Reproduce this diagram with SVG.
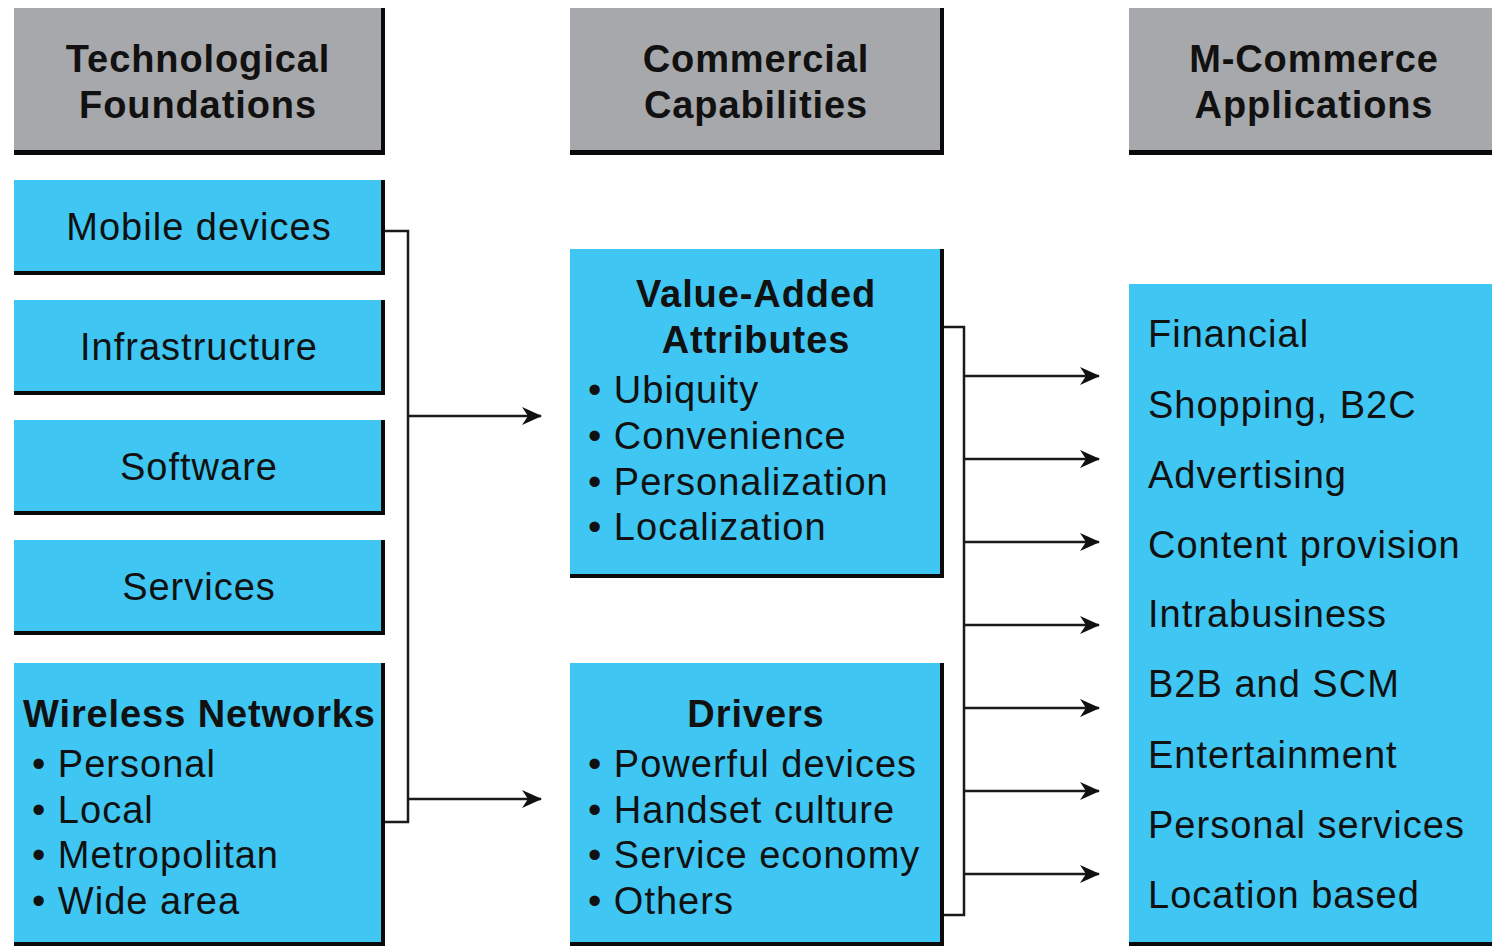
<svg xmlns="http://www.w3.org/2000/svg" width="1492" height="946" viewBox="0 0 1492 946">
  <defs>
    <style>
      .edge { fill: #0a0a0a; }
      .head { fill: #a7a8ab; }
      .box { fill: #3fc6f2; }
      text { font-family: "Liberation Sans", Arial, sans-serif; font-size: 38px; fill: #111; letter-spacing: 1px; }
      .b { font-weight: bold; letter-spacing: 0.9px; }
      .c { text-anchor: middle; }
      .wire { fill: none; stroke: #1a1a1a; stroke-width: 2.5; }
      .arrow { fill: none; stroke: #1a1a1a; stroke-width: 2.5; marker-end: url(#tip); }
    </style>
    <marker id="tip" markerUnits="userSpaceOnUse" markerWidth="22" markerHeight="20" refX="19" refY="10" orient="auto">
      <path d="M0,1 L20,10 L0,19 L6,10 Z" fill="#111"/>
    </marker>
  </defs>

  <!-- column headers -->
  <g id="hdr-tech">
    <rect class="edge" x="14" y="8" width="371" height="147"/>
    <rect class="head" x="14" y="8" width="367" height="142"/>
    <text class="b c" x="198" y="72">Technological</text>
    <text class="b c" x="198" y="118">Foundations</text>
  </g>
  <g id="hdr-comm">
    <rect class="edge" x="570" y="8" width="374" height="147"/>
    <rect class="head" x="570" y="8" width="370" height="142"/>
    <text class="b c" x="756" y="72">Commercial</text>
    <text class="b c" x="756" y="118">Capabilities</text>
  </g>
  <g id="hdr-apps">
    <rect class="edge" x="1129" y="8" width="363" height="147"/>
    <rect class="head" x="1129" y="8" width="363" height="142"/>
    <text class="b c" x="1314" y="72">M-Commerce</text>
    <text class="b c" x="1314" y="118">Applications</text>
  </g>

  <!-- technological foundations -->
  <g id="mobile-devices">
    <rect class="edge" x="14" y="180" width="371" height="95"/>
    <rect class="box" x="14" y="180" width="367" height="91"/>
    <text class="c" x="199" y="240">Mobile devices</text>
  </g>
  <g id="infrastructure">
    <rect class="edge" x="14" y="300" width="371" height="95"/>
    <rect class="box" x="14" y="300" width="367" height="91"/>
    <text class="c" x="199" y="360">Infrastructure</text>
  </g>
  <g id="software">
    <rect class="edge" x="14" y="420" width="371" height="95"/>
    <rect class="box" x="14" y="420" width="367" height="91"/>
    <text class="c" x="199" y="480">Software</text>
  </g>
  <g id="services">
    <rect class="edge" x="14" y="540" width="371" height="95"/>
    <rect class="box" x="14" y="540" width="367" height="91"/>
    <text class="c" x="199" y="600">Services</text>
  </g>
  <g id="wireless-networks">
    <rect class="edge" x="14" y="663" width="371" height="283"/>
    <rect class="box" x="14" y="663" width="367" height="279"/>
    <text class="b" x="23" y="727">Wireless Networks</text>
    <text x="32" y="777">• Personal</text>
    <text x="32" y="823">• Local</text>
    <text x="32" y="868">• Metropolitan</text>
    <text x="32" y="914">• Wide area</text>
  </g>

  <!-- commercial capabilities -->
  <g id="value-added">
    <rect class="edge" x="570" y="249" width="374" height="329"/>
    <rect class="box" x="570" y="249" width="370" height="325"/>
    <text class="b c" x="756" y="307">Value-Added</text>
    <text class="b c" x="756" y="353">Attributes</text>
    <text x="588" y="403">• Ubiquity</text>
    <text x="588" y="449">• Convenience</text>
    <text x="588" y="495">• Personalization</text>
    <text x="588" y="540">• Localization</text>
  </g>
  <g id="drivers">
    <rect class="edge" x="570" y="663" width="374" height="283"/>
    <rect class="box" x="570" y="663" width="370" height="279"/>
    <text class="b c" x="756" y="727">Drivers</text>
    <text x="588" y="777">• Powerful devices</text>
    <text x="588" y="823">• Handset culture</text>
    <text x="588" y="868">• Service economy</text>
    <text x="588" y="914">• Others</text>
  </g>

  <!-- applications -->
  <g id="applications">
    <rect class="edge" x="1129" y="284" width="363" height="662"/>
    <rect class="box" x="1129" y="284" width="363" height="658"/>
    <text x="1148" y="347">Financial</text>
    <text x="1148" y="418">Shopping, B2C</text>
    <text x="1148" y="488">Advertising</text>
    <text x="1148" y="558">Content provision</text>
    <text x="1148" y="627">Intrabusiness</text>
    <text x="1148" y="697">B2B and SCM</text>
    <text x="1148" y="768">Entertainment</text>
    <text x="1148" y="838">Personal services</text>
    <text x="1148" y="908">Location based</text>
  </g>

  <!-- connectors -->
  <g id="connectors">
    <path class="wire" d="M385 231 H408 V822 H385"/>
    <path class="arrow" d="M408 416 H541"/>
    <path class="arrow" d="M408 799 H541"/>
    <path class="wire" d="M944 327 H964 V915 H944"/>
    <path class="arrow" d="M964 376 H1099"/>
    <path class="arrow" d="M964 459 H1099"/>
    <path class="arrow" d="M964 542 H1099"/>
    <path class="arrow" d="M964 625 H1099"/>
    <path class="arrow" d="M964 708 H1099"/>
    <path class="arrow" d="M964 791 H1099"/>
    <path class="arrow" d="M964 874 H1099"/>
  </g>
</svg>
